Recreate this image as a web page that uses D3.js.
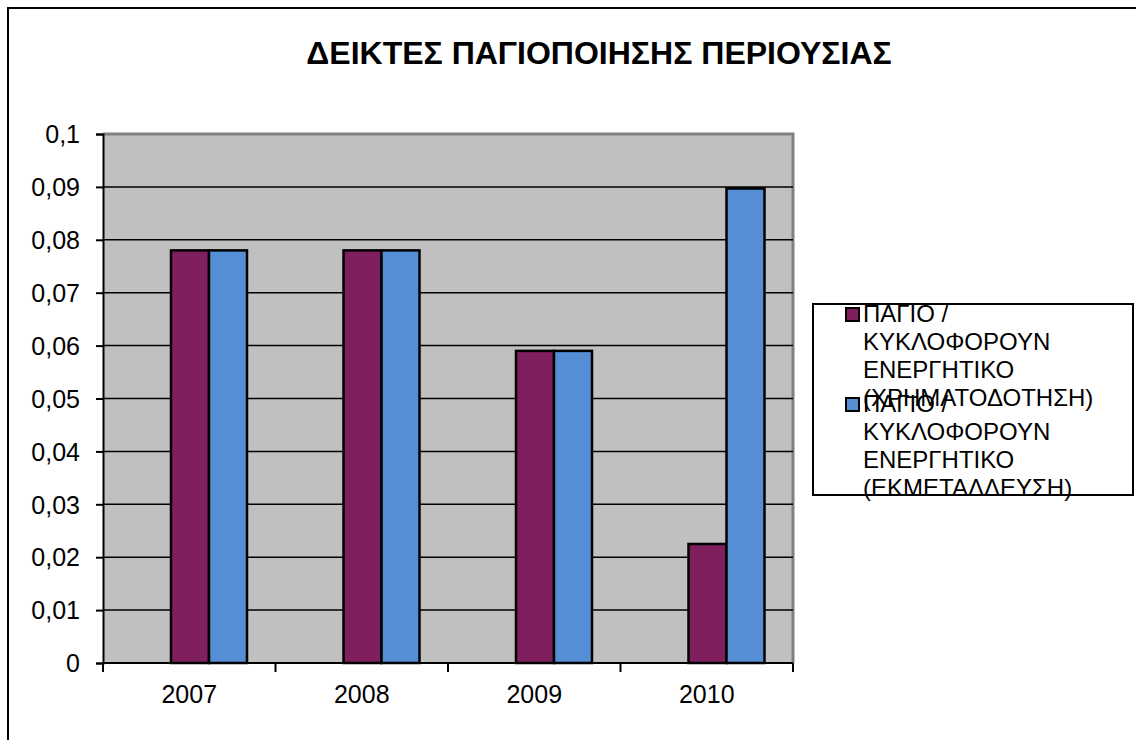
<!DOCTYPE html>
<meta charset="utf-8">
<style>
  body { margin: 0; background: #fff; }
  text { font-family: "Liberation Sans", Arial, sans-serif; fill: #000; }
</style>
<div id="container"></div>
<script src="https://cdn.jsdelivr.net/npm/d3@7"></script>
<script>
  // data
  const years = ["2007", "2008", "2009", "2010"];
  const seriesNames = ["fin", "exp"];
  const finValues = [0.078, 0.078, 0.059, 0.0225];   // ΠΑΓΙΟ / ΚΥΚΛΟΦΟΡΟΥΝ ΕΝΕΡΓΗΤΙΚΟ (ΧΡΗΜΑΤΟΔΟΤΗΣΗ)
  const expValues = [0.078, 0.078, 0.059, 0.0897];   // ΠΑΓΙΟ / ΚΥΚΛΟΦΟΡΟΥΝ ΕΝΕΡΓΗΤΙΚΟ (ΕΚΜΕΤΑΛΛΕΥΣΗ)
  const yTicks = [0, 0.01, 0.02, 0.03, 0.04, 0.05, 0.06, 0.07, 0.08, 0.09, 0.1];
  const legendLabels = [
    ["ΠΑΓΙΟ /", "ΚΥΚΛΟΦΟΡΟΥΝ", "ΕΝΕΡΓΗΤΙΚΟ", "(ΧΡΗΜΑΤΟΔΟΤΗΣΗ)"],
    ["ΠΑΓΙΟ /", "ΚΥΚΛΟΦΟΡΟΥΝ", "ΕΝΕΡΓΗΤΙΚΟ", "(ΕΚΜΕΤΑΛΛΕΥΣΗ)"]
  ];
  const title = "ΔΕΙΚΤΕΣ ΠΑΓΙΟΠΟΙΗΣΗΣ ΠΕΡΙΟΥΣΙΑΣ";

  const colors = { fin: "#7f1f5e", exp: "#558ed5" };
  const W = 1136, H = 740;
  const plot = { left: 103, right: 793, top: 134, bottom: 663 };

  const rows = years.map((y, i) => ({ year: y, fin: finValues[i], exp: expValues[i] }));

  const svg = d3.select("#container").append("svg")
    .attr("width", W).attr("height", H);

  // outer chart frame (runs off the right/bottom of the picture)
  svg.append("rect")
    .attr("x", 8).attr("y", 8)
    .attr("width", W + 20).attr("height", H + 20)
    .attr("fill", "#fff").attr("stroke", "#000").attr("stroke-width", 2);

  svg.append("text")
    .attr("x", 599).attr("y", 64)
    .attr("text-anchor", "middle")
    .attr("font-size", 32).attr("font-weight", "bold")
    .text(title);

  const x = d3.scaleBand().domain(years).range([plot.left, plot.right]);
  // bars sit off-centre inside each category, like the original
  const x1 = d3.scaleBand().domain(seriesNames).range([68, 144]);
  const y = d3.scaleLinear().domain([0, 0.1]).range([plot.bottom, plot.top]);

  // plot area
  svg.append("rect")
    .attr("x", plot.left).attr("y", plot.top)
    .attr("width", plot.right - plot.left).attr("height", plot.bottom - plot.top)
    .attr("fill", "#c0c0c0");
  svg.append("path")
    .attr("d", `M${plot.left},${plot.top}H${plot.right}V${plot.bottom}`)
    .attr("fill", "none").attr("stroke", "#808080").attr("stroke-width", 3);

  // gridlines
  svg.append("g").selectAll("line")
    .data(yTicks.filter(t => t > 0 && t < 0.1))
    .join("line")
    .attr("x1", plot.left).attr("x2", plot.right)
    .attr("y1", d => y(d)).attr("y2", d => y(d))
    .attr("stroke", "#000").attr("stroke-width", 1.5);

  // bars
  svg.append("g").selectAll("g")
    .data(rows)
    .join("g")
    .attr("transform", d => `translate(${x(d.year)},0)`)
    .selectAll("rect")
    .data(d => seriesNames.map(k => ({ key: k, value: d[k] })))
    .join("rect")
    .attr("x", d => x1(d.key))
    .attr("width", x1.bandwidth())
    .attr("y", d => y(d.value))
    .attr("height", d => y(0) - y(d.value))
    .attr("fill", d => colors[d.key])
    .attr("stroke", "#000").attr("stroke-width", 2.5);

  // y axis
  const yAxis = svg.append("g")
    .attr("transform", `translate(${plot.left},0)`)
    .call(d3.axisLeft(y).tickValues(yTicks).tickSize(7).tickPadding(16)
      .tickFormat(d => d === 0 ? "0" : d3.format(".2~f")(d).replace(".", ",")));
  yAxis.select(".domain").attr("stroke", "#000").attr("stroke-width", 2);
  yAxis.selectAll(".tick line").attr("stroke", "#000").attr("stroke-width", 2);
  yAxis.selectAll(".tick text").attr("font-size", 25).attr("font-family", null).attr("dy", "0.35em");

  // x axis: ticks at category boundaries
  const xAxisG = svg.append("g").attr("transform", `translate(0,${plot.bottom})`);
  xAxisG.append("line")
    .attr("x1", plot.left).attr("x2", plot.right)
    .attr("stroke", "#000").attr("stroke-width", 2);
  const bounds = years.map(d => x(d)).concat([plot.right]);
  xAxisG.selectAll(".b")
    .data(bounds)
    .join("line")
    .attr("x1", d => d).attr("x2", d => d)
    .attr("y1", 0).attr("y2", 9)
    .attr("stroke", "#000").attr("stroke-width", 2);
  xAxisG.selectAll("text")
    .data(years)
    .join("text")
    .attr("x", d => x(d) + x.bandwidth() / 2)
    .attr("y", 40)
    .attr("text-anchor", "middle")
    .attr("font-size", 25)
    .text(d => d);

  // legend
  const lg = svg.append("g");
  lg.append("rect")
    .attr("x", 813).attr("y", 304).attr("width", 320).attr("height", 191)
    .attr("fill", "#fff").attr("stroke", "#000").attr("stroke-width", 2);
  legendLabels.forEach((lines, i) => {
    const top = 322 + i * 90;
    lg.append("rect")
      .attr("x", 846).attr("y", top - 14).attr("width", 13).attr("height", 13)
      .attr("fill", colors[seriesNames[i]]).attr("stroke", "#000").attr("stroke-width", 2);
    lg.append("text")
      .attr("x", 863).attr("y", top)
      .attr("font-size", 24)
      .attr("fill", "#000")
      .selectAll("tspan")
      .data(lines)
      .join("tspan")
      .attr("x", 863)
      .attr("y", (d, j) => top + j * 28)
      .text(d => d);
  });
</script>
